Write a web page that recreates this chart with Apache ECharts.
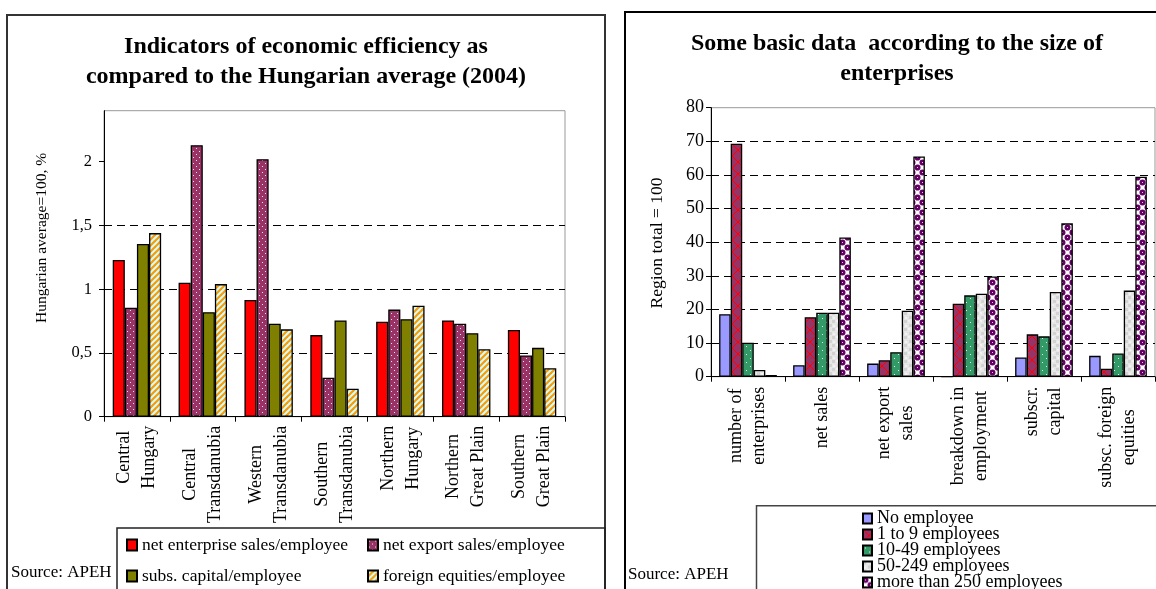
<!DOCTYPE html>
<html>
<head>
<meta charset="utf-8">
<script src="https://cdn.jsdelivr.net/npm/echarts@6/dist/echarts.min.js"></script>
<style>
html,body{margin:0;padding:0;background:#fff;}
#chart{width:1156px;height:589px;}
</style>
</head>
<body>
<div id="chart"></div>
<script>
// ---------- data: left chart ----------
const leftCategories = ['Central\nHungary', 'Central\nTransdanubia', 'Western\nTransdanubia', 'Southern\nTransdanubia', 'Northern\nHungary', 'Northern\nGreat Plain', 'Southern\nGreat Plain'];
const netEnterpriseSales = [1.23, 1.05, 0.915, 0.64, 0.745, 0.755, 0.68];
const netExportSales = [0.855, 2.13, 2.02, 0.305, 0.84, 0.73, 0.48];
const subsCapital = [1.355, 0.82, 0.73, 0.755, 0.765, 0.655, 0.54];
const foreignEquities = [1.44, 1.04, 0.685, 0.22, 0.87, 0.53, 0.38];
const leftTicks = [0, 0.5, 1, 1.5, 2];

// ---------- data: right chart ----------
const rightCategories = ['number of\nenterprises', 'net sales', 'net export\nsales', 'breakdown in\nemployment', 'subscr.\ncapital', 'subsc. foreign\nequities'];
const noEmployee = [18.6, 3.4, 3.9, 0, 5.7, 6.2];
const emp1to9 = [69.3, 17.7, 4.9, 21.7, 12.6, 2.4];
const emp10to49 = [10.1, 19.0, 7.3, 24.2, 12.0, 6.9];
const emp50to249 = [2.0, 19.0, 19.6, 24.7, 25.2, 25.6];
const empOver250 = [0.5, 41.4, 65.5, 29.8, 45.6, 59.5];

const FONT = '"Liberation Serif", "Times New Roman", serif';

function pattern(w, h, draw) {
  const c = document.createElement('canvas');
  c.width = w; c.height = h;
  const ctx = c.getContext('2d');
  draw(ctx, w, h);
  return { image: c, repeat: 'repeat' };
}
const patDots = pattern(6, 6, (g) => {
  g.fillStyle = '#993366'; g.fillRect(0, 0, 6, 6);
  g.fillStyle = '#f4e4ee'; g.fillRect(1, 1, 1, 1); g.fillRect(4, 4, 1, 1);
});
const patStripes = pattern(6, 6, (g) => {
  g.fillStyle = '#CCFFFF'; g.fillRect(0, 0, 6, 6);
  g.strokeStyle = '#FF9900'; g.lineWidth = 2.2;
  for (let k = -1; k <= 1; k++) { g.beginPath(); g.moveTo(k * 6 - 1, 7); g.lineTo(k * 6 + 7, -1); g.stroke(); }
});
const patZig = pattern(12, 12, (g) => {
  g.fillStyle = '#993366'; g.fillRect(0, 0, 12, 12);
  g.strokeStyle = '#FF0000'; g.lineWidth = 1;
  g.beginPath(); g.moveTo(0, 0); g.lineTo(12, 12); g.moveTo(12, 0); g.lineTo(0, 12); g.stroke();
});
const patGreen = pattern(8, 8, (g) => {
  g.fillStyle = '#339966'; g.fillRect(0, 0, 8, 8);
  g.fillStyle = '#e8f4ee'; g.fillRect(2, 2, 1, 1); g.fillRect(6, 6, 1, 1);
});
const patGray = pattern(8, 8, (g) => {
  g.fillStyle = '#E6E6E6'; g.fillRect(0, 0, 8, 8);
  g.fillStyle = '#D2D2D2'; g.fillRect(0, 0, 3, 3); g.fillRect(5, 4, 3, 3);
  g.fillStyle = '#F2F2F2'; g.fillRect(4, 0, 2, 2); g.fillRect(1, 5, 2, 2);
});
const patPurple = pattern(10, 10, (g) => {
  g.fillStyle = '#FFFFFF'; g.fillRect(0, 0, 10, 10);
  g.fillStyle = '#660066';
  g.beginPath(); g.arc(2.5, 2.5, 3, 0, Math.PI * 2); g.fill();
  g.beginPath(); g.arc(7.5, 7.5, 3, 0, Math.PI * 2); g.fill();
  g.beginPath(); g.arc(-2.5, 7.5, 3, 0, Math.PI * 2); g.fill();
  g.beginPath(); g.arc(12.5, 2.5, 3, 0, Math.PI * 2); g.fill();
  g.beginPath(); g.arc(7.5, -2.5, 3, 0, Math.PI * 2); g.fill();
  g.beginPath(); g.arc(2.5, 12.5, 3, 0, Math.PI * 2); g.fill();
  g.fillStyle = '#e0c8e0'; g.fillRect(2, 2, 1, 1); g.fillRect(7, 7, 1, 1);
});

function centerLines(v) { return v.split('\n').map(s => '{c|' + s + '}').join('\n'); }

const chart = echarts.init(document.getElementById('chart'), null, { renderer: 'canvas' });

const barBorder = { borderColor: '#000', borderWidth: 1.3 };
function leftBar(name, data, color) {
  return { name, type: 'bar', xAxisIndex: 0, yAxisIndex: 0, data, barGap: '0%', barCategoryGap: '26.5%',
    itemStyle: Object.assign({ color }, barBorder), animation: false };
}
function rightBar(name, data, color) {
  return { name, type: 'bar', xAxisIndex: 1, yAxisIndex: 1, data, barGap: '0%', barCategoryGap: '22%',
    itemStyle: Object.assign({ color }, barBorder), animation: false };
}

const legendText = { fontFamily: FONT, fontSize: 17.5, color: '#000', lineHeight: 18 };

const option = {
  animation: false,
  backgroundColor: '#fff',
  grid: [
    { left: 104, top: 110.7, width: 461, height: 306, show: true, borderColor: '#999', borderWidth: 1, backgroundColor: 'transparent' },
    { left: 711, top: 107.7, width: 444, height: 269, show: true, borderColor: '#999', borderWidth: 1, backgroundColor: 'transparent' }
  ],
  xAxis: [
    { type: 'category', gridIndex: 0, data: leftCategories,
      axisLine: { lineStyle: { color: '#000', width: 1 } },
      axisTick: { show: true, length: 5, lineStyle: { color: '#000' } },
      axisLabel: { interval: 0, rotate: 90, margin: 9, color: '#000', fontFamily: FONT, fontSize: 18, lineHeight: 25,
        formatter: centerLines, rich: { c: { align: 'center', fontFamily: FONT, fontSize: 18, lineHeight: 25, color: '#000' } } } },
    { type: 'category', gridIndex: 1, data: rightCategories,
      axisLine: { lineStyle: { color: '#000', width: 1 } },
      axisTick: { show: true, length: 5, lineStyle: { color: '#000' } },
      axisLabel: { interval: 0, rotate: 90, margin: 10, color: '#000', fontFamily: FONT, fontSize: 18, lineHeight: 23,
        formatter: centerLines, rich: { c: { align: 'center', fontFamily: FONT, fontSize: 18, lineHeight: 23, color: '#000' } } } }
  ],
  yAxis: [
    { type: 'value', gridIndex: 0, min: 0, max: 2.4, interval: 0.5,
      axisLine: { show: true, lineStyle: { color: '#000' } },
      axisTick: { show: true, length: 5, lineStyle: { color: '#000' }, customValues: leftTicks },
      axisLabel: { margin: 12, color: '#000', fontFamily: FONT, fontSize: 16.5, customValues: leftTicks,
        formatter: v => (v > 2.2 ? '' : String(v).replace('.', ',')) },
      splitLine: { show: true, showMaxLine: false, lineStyle: { color: '#000', type: [8, 5], width: 1 } } },
    { type: 'value', gridIndex: 1, min: 0, max: 80, interval: 10,
      axisLine: { show: true, lineStyle: { color: '#000' } },
      axisTick: { show: true, length: 5, lineStyle: { color: '#000' } },
      axisLabel: { margin: 7, color: '#000', fontFamily: FONT, fontSize: 18 },
      splitLine: { show: true, showMaxLine: false, lineStyle: { color: '#000', type: [8, 5], width: 1 } } }
  ],
  legend: [
    { data: ['net enterprise sales/employee', 'subs. capital/employee'], orient: 'vertical', left: 126, top: 536, height: 80,
      itemGap: 13, itemWidth: 10, itemHeight: 11, padding: 0, selectedMode: false, icon: 'rect', textStyle: legendText },
    { data: ['net export sales/employee', 'foreign equities/employee'], orient: 'vertical', left: 367, top: 536, height: 80,
      itemGap: 13, itemWidth: 10, itemHeight: 11, padding: 0, selectedMode: false, icon: 'rect', textStyle: legendText },
    { data: ['No employee', '1 to 9 employees', '10-49 employees', '50-249 employees', 'more than 250 employees'],
      orient: 'vertical', left: 862, top: 509.5, height: 120, itemGap: -2, itemWidth: 9, itemHeight: 10, padding: 0, selectedMode: false, icon: 'rect',
      textStyle: { fontFamily: FONT, fontSize: 18, color: '#000', lineHeight: 16 } }
  ],
  series: [
    leftBar('net enterprise sales/employee', netEnterpriseSales, '#FF0000'),
    leftBar('net export sales/employee', netExportSales, patDots),
    leftBar('subs. capital/employee', subsCapital, '#808000'),
    leftBar('foreign equities/employee', foreignEquities, patStripes),
    rightBar('No employee', noEmployee, '#9999FF'),
    rightBar('1 to 9 employees', emp1to9, patZig),
    rightBar('10-49 employees', emp10to49, patGreen),
    rightBar('50-249 employees', emp50to249, patGray),
    rightBar('more than 250 employees', empOver250, patPurple)
  ],
  graphic: [
    { type: 'rect', shape: { x: 7, y: 15, width: 598, height: 620 }, style: { fill: 'none', stroke: '#333', lineWidth: 2 }, silent: true },
    { type: 'rect', shape: { x: 625, y: 12, width: 560, height: 620 }, style: { fill: 'none', stroke: '#000', lineWidth: 2 }, silent: true },
    { type: 'rect', shape: { x: 117, y: 528, width: 488, height: 100 }, style: { fill: 'none', stroke: '#222', lineWidth: 1.5 }, silent: true },
    { type: 'rect', shape: { x: 756.5, y: 505.7, width: 420, height: 100 }, style: { fill: 'none', stroke: '#444', lineWidth: 1.5 }, silent: true },
    { type: 'text', x: 306, y: 32, silent: true,
      style: { text: 'Indicators of economic efficiency as\ncompared to the Hungarian average (2004)', fontFamily: FONT, fontSize: 24, fontWeight: 'bold',
        lineHeight: 30, align: 'center', verticalAlign: 'top', fill: '#000' } },
    { type: 'text', x: 897, y: 29, silent: true,
      style: { text: 'Some basic data  according to the size of\nenterprises', fontFamily: FONT, fontSize: 24, fontWeight: 'bold',
        lineHeight: 30, align: 'center', verticalAlign: 'top', fill: '#000' } },
    { type: 'text', x: 42, y: 238, rotation: Math.PI / 2, silent: true,
      style: { text: 'Hungarian average=100, %', fontFamily: FONT, fontSize: 15.5, align: 'center', verticalAlign: 'middle', fill: '#000' } },
    { type: 'text', x: 657, y: 243, rotation: Math.PI / 2, silent: true,
      style: { text: 'Region total = 100', fontFamily: FONT, fontSize: 17.5, align: 'center', verticalAlign: 'middle', fill: '#000' } },
    { type: 'text', x: 11, y: 573, silent: true,
      style: { text: 'Source: APEH', fontFamily: FONT, fontSize: 17, align: 'left', verticalAlign: 'middle', fill: '#000' } },
    { type: 'text', x: 628, y: 575, silent: true,
      style: { text: 'Source: APEH', fontFamily: FONT, fontSize: 17, align: 'left', verticalAlign: 'middle', fill: '#000' } }
  ]
};
chart.setOption(option);
</script>
</body>
</html>
